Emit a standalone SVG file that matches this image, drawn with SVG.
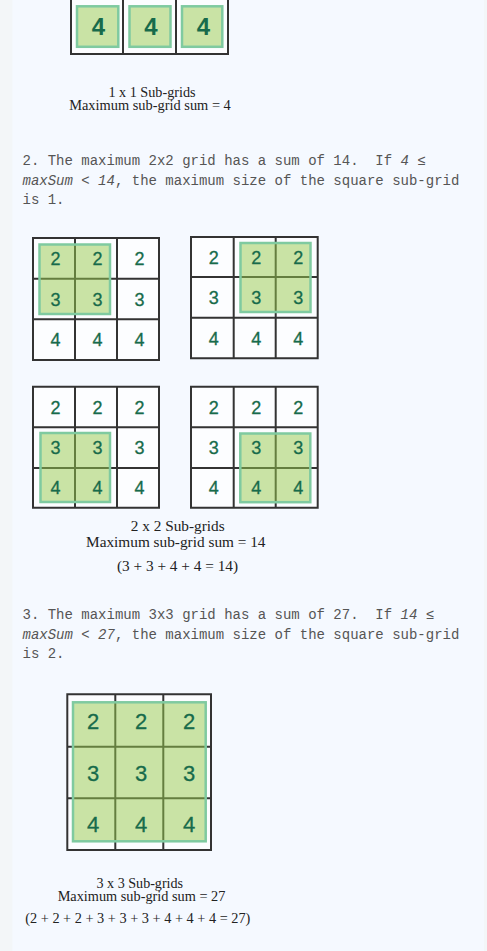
<svg xmlns="http://www.w3.org/2000/svg" width="487" height="951" viewBox="0 0 487 951">
<style>
.grid{fill:none;stroke:#333;stroke-width:2}
.cellbg{fill:#fcfdff}
.hl{fill:#95c94b;fill-opacity:0.5;stroke:#7fcaa0;stroke-width:2.5}
.num{font-family:"Liberation Sans",Arial,sans-serif;font-size:18px;fill:#176b4b;stroke:#176b4b;stroke-width:0.3;text-anchor:middle}
.num3{font-family:"Liberation Sans",Arial,sans-serif;font-size:22px;fill:#176b4b;stroke:#176b4b;stroke-width:0.3;text-anchor:middle}
.numb{font-family:"Liberation Sans",Arial,sans-serif;font-size:24px;font-weight:bold;fill:#176b4b;text-anchor:middle}
.cap{font-family:"Liberation Serif","Times New Roman",serif;fill:#222;text-anchor:middle}
.mono{font-family:"Liberation Mono","DejaVu Sans Mono",monospace;font-size:14px;fill:#555}
.it{font-style:italic}
</style>
<rect x="0" y="0" width="487" height="951" fill="#f3f6f8"/>
<rect x="12.5" y="0" width="471.5" height="951" fill="#f5f9ff"/>

<g id="grid-1x1">
<rect class="cellbg" x="71" y="-10" width="157" height="64"/>
<rect class="hl" x="77" y="6.3" width="41.3" height="40.5"/>
<rect class="hl" x="129.5" y="6.3" width="41" height="40.5"/>
<rect class="hl" x="182" y="6.3" width="40.3" height="40.5"/>
<path class="grid" d="M71,-10V54H228V-10M123,-10V54M176,-10V54"/>
<text class="numb" x="98.5" y="35">4</text>
<text class="numb" x="151" y="35">4</text>
<text class="numb" x="203.5" y="35">4</text>
</g>

<g id="caption-1x1">
<text class="cap" x="152" y="96.5" font-size="14.2">1 x 1 Sub-grids</text>
<text class="cap" x="150" y="110" font-size="14.4">Maximum sub-grid sum = 4</text>
</g>

<g id="para-2">
<text class="mono" x="22.5" y="165" xml:space="preserve">2. The maximum 2x2 grid has a sum of 14.  If <tspan class="it">4 ≤</tspan></text>
<text class="mono" x="22.5" y="185" xml:space="preserve"><tspan class="it">maxSum &lt; 14</tspan>, the maximum size of the square sub-grid</text>
<text class="mono" x="22.5" y="204" xml:space="preserve">is 1.</text>
</g>

<g id="grid-2x2-a">
<rect class="cellbg" x="33" y="238" width="126" height="122"/>
<path class="grid" d="M33,238H159V360H33ZM75,238V360M117,238V360M33,278.7H159M33,319.3H159"/>
<rect class="hl" x="39.5" y="244.5" width="70.5" height="69.5"/>
<text class="num" x="55.5" y="264.8">2</text><text class="num" x="97.5" y="264.8">2</text><text class="num" x="139.5" y="264.8">2</text>
<text class="num" x="55.5" y="305.5">3</text><text class="num" x="97.5" y="305.5">3</text><text class="num" x="139.5" y="305.5">3</text>
<text class="num" x="55.5" y="346.2">4</text><text class="num" x="97.5" y="346.2">4</text><text class="num" x="139.5" y="346.2">4</text>
</g>

<g id="grid-2x2-b">
<rect class="cellbg" x="191" y="237" width="126.7" height="121.3"/>
<path class="grid" d="M191,237H317.7V358.3H191ZM233.7,237V358.3M275.7,237V358.3M191,277H317.7M191,317.7H317.7"/>
<rect class="hl" x="240.5" y="243" width="70" height="69"/>
<text class="num" x="213.8" y="263.5">2</text><text class="num" x="256.2" y="263.5">2</text><text class="num" x="298.2" y="263.5">2</text>
<text class="num" x="213.8" y="303.8">3</text><text class="num" x="256.2" y="303.8">3</text><text class="num" x="298.2" y="303.8">3</text>
<text class="num" x="213.8" y="344.5">4</text><text class="num" x="256.2" y="344.5">4</text><text class="num" x="298.2" y="344.5">4</text>
</g>

<g id="grid-2x2-c">
<rect class="cellbg" x="33" y="386.7" width="126" height="121"/>
<path class="grid" d="M33,386.7H159V507.7H33ZM75,386.7V507.7M117,386.7V507.7M33,427.3H159M33,468H159"/>
<rect class="hl" x="40.5" y="433" width="69.5" height="69"/>
<text class="num" x="55.5" y="413.5">2</text><text class="num" x="97.5" y="413.5">2</text><text class="num" x="139.5" y="413.5">2</text>
<text class="num" x="55.5" y="454.2">3</text><text class="num" x="97.5" y="454.2">3</text><text class="num" x="139.5" y="454.2">3</text>
<text class="num" x="55.5" y="494.3">4</text><text class="num" x="97.5" y="494.3">4</text><text class="num" x="139.5" y="494.3">4</text>
</g>

<g id="grid-2x2-d">
<rect class="cellbg" x="191" y="386.7" width="126.7" height="121"/>
<path class="grid" d="M191,386.7H317.7V507.7H191ZM233.7,386.7V507.7M275.7,386.7V507.7M191,427.3H317.7M191,468H317.7"/>
<rect class="hl" x="240.3" y="433.5" width="70" height="68.7"/>
<text class="num" x="213.8" y="413.5">2</text><text class="num" x="256.2" y="413.5">2</text><text class="num" x="298.2" y="413.5">2</text>
<text class="num" x="213.8" y="454.2">3</text><text class="num" x="256.2" y="454.2">3</text><text class="num" x="298.2" y="454.2">3</text>
<text class="num" x="213.8" y="494.3">4</text><text class="num" x="256.2" y="494.3">4</text><text class="num" x="298.2" y="494.3">4</text>
</g>

<g id="caption-2x2">
<text class="cap" x="177.7" y="531" font-size="15.3">2 x 2 Sub-grids</text>
<text class="cap" x="175.8" y="547.3" font-size="15.3">Maximum sub-grid sum = 14</text>
<text class="cap" x="177.5" y="571" font-size="15.3">(3 + 3 + 4 + 4 = 14)</text>
</g>

<g id="para-3">
<text class="mono" x="22.5" y="619" xml:space="preserve">3. The maximum 3x3 grid has a sum of 27.  If <tspan class="it">14 ≤</tspan></text>
<text class="mono" x="22.5" y="639" xml:space="preserve"><tspan class="it">maxSum &lt; 27</tspan>, the maximum size of the square sub-grid</text>
<text class="mono" x="22.5" y="658" xml:space="preserve">is 2.</text>
</g>

<g id="grid-3x3">
<rect class="cellbg" x="67.3" y="694.3" width="143.7" height="155.7"/>
<path class="grid" d="M67.3,694.3H211V850H67.3ZM115.3,694.3V850M163.3,694.3V850M67.3,746.7H211M67.3,798.3H211"/>
<rect class="hl" x="73" y="702.3" width="132.7" height="139"/>
<text class="num3" x="93" y="728.5">2</text><text class="num3" x="141" y="728.5">2</text><text class="num3" x="189" y="728.5">2</text>
<text class="num3" x="93" y="780.5">3</text><text class="num3" x="141" y="780.5">3</text><text class="num3" x="189" y="780.5">3</text>
<text class="num3" x="93" y="832">4</text><text class="num3" x="141" y="832">4</text><text class="num3" x="189" y="832">4</text>
</g>

<g id="caption-3x3">
<text class="cap" x="139.8" y="887.5" font-size="14.1">3 x 3 Sub-grids</text>
<text class="cap" x="141.5" y="900.5" font-size="14.3">Maximum sub-grid sum = 27</text>
<text class="cap" x="137.8" y="922.7" font-size="14.3">(2 + 2 + 2 + 3 + 3 + 3 + 4 + 4 + 4 = 27)</text>
</g>
</svg>
